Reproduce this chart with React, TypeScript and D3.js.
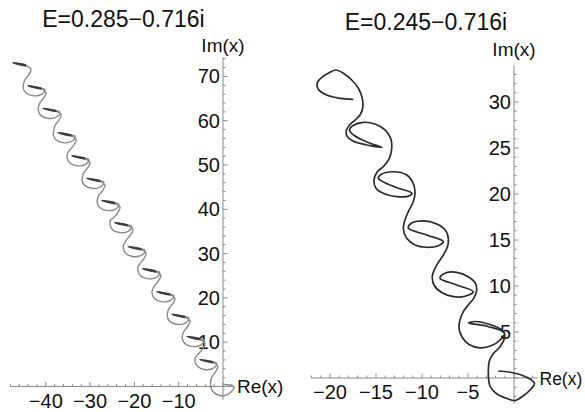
import React from 'react';
import * as d3 from 'd3';

// ---------- data ----------
const leftTitle = 'E=0.285\u22120.716i';
const rightTitle = 'E=0.245\u22120.716i';

const leftXTicks = [-40, -30, -20, -10];
const leftYTicks = [10, 20, 30, 40, 50, 60, 70];
const rightXTicks = [-20, -15, -10, -5];
const rightYTicks = [5, 10, 15, 20, 25, 30];

// left panel: positions (Re, Im) of the left tip of each loop's dark fold
const leftLoopTips: [number, number][] = [
  [-47.4, 73.1], [-44.0, 67.9], [-40.6, 62.8], [-37.2, 57.3], [-34.1, 52.1],
  [-30.7, 47.0], [-27.3, 42.0], [-24.4, 37.0], [-21.4, 31.6], [-18.1, 26.6],
  [-14.9, 21.4], [-11.5, 16.3], [-8.1, 11.3], [-5.2, 6.1],
];
// shape of one left-panel loop, as (Re, Im) offsets from its tip
const leftLoopShape: [number, number][] = [
  [-1.0, 0.5], [-1.1, -0.5], [-0.5, -1.6], [1.0, -2.25], [2.6, -2.15],
  [3.6, -1.5], [3.75, -0.8], [2.93, -0.54], [1.35, -0.23], [0, 0],
  [1.35, -0.38], [3.05, -0.72], [4.05, -1.5], [3.55, -2.75], [2.7, -3.8],
];
// left panel: last turn near the origin
const leftTail: [number, number][] = [
  [-2.6, 2.0], [-2.82, 0.68], [-2.48, -0.9], [-1.13, -1.92], [0.45, -2.03],
  [1.81, -1.24], [2.48, -0.23], [1.58, 0.34], [0, 0.45],
];

// right panel trajectory (Re, Im)
const rightCurve: [number, number][] = [
  // loop 1
  [-17.47, 30.29], [-18.91, 30.4], [-20.36, 30.76], [-21.27, 31.38], [-21.38, 32.1],
  [-20.79, 32.75], [-20.0, 33.23], [-19.35, 33.48], [-18.55, 33.12], [-17.64, 32.39],
  [-16.92, 31.49], [-16.49, 30.4], [-16.45, 29.32], [-16.74, 28.59], [-17.28, 28.04],
  // loop 2
  [-17.83, 27.55], [-18.21, 26.96], [-18.15, 26.3], [-17.5, 25.76], [-16.01, 25.33],
  [-14.38, 25.08], [-15.84, 25.6], [-17.28, 26.3], [-17.88, 26.96], [-17.47, 27.45],
  [-16.38, 27.79], [-15.11, 27.61], [-14.02, 26.96], [-13.4, 26.05], [-13.29, 24.97],
  [-13.55, 23.88], [-14.21, 22.97],
  // loop 3
  [-14.86, 22.42], [-15.22, 21.52], [-15.0, 20.62], [-14.21, 20.08], [-12.75, 19.71],
  [-11.3, 19.84], [-11.09, 20.08], [-12.93, 20.76], [-14.75, 21.71], [-14.46, 22.12],
  [-13.12, 22.42], [-11.66, 22.07], [-10.95, 21.16], [-10.76, 20.08], [-10.95, 19.16],
  [-11.49, 18.08],
  // loop 4
  [-11.85, 17.17], [-12.03, 16.25], [-11.66, 15.18], [-10.76, 14.46], [-9.49, 14.21],
  [-8.23, 14.38], [-7.68, 14.82], [-9.49, 15.54], [-11.49, 16.3], [-11.2, 16.79],
  [-9.86, 17.07], [-8.4, 16.74], [-7.39, 15.98], [-7.14, 15.18], [-7.23, 14.27],
  [-7.68, 13.37], [-8.23, 12.55],
  // loop 5
  [-8.59, 11.92], [-8.88, 11.09], [-8.7, 10.11], [-7.86, 9.29], [-6.6, 8.84],
  [-5.33, 8.88], [-4.42, 9.38], [-6.23, 10.11], [-8.04, 10.84], [-7.5, 11.38],
  [-6.23, 11.49], [-4.97, 11.01], [-4.24, 10.38], [-4.05, 9.57], [-4.35, 8.7],
  [-4.97, 7.93], [-5.51, 7.21],
  // loop 6
  [-5.87, 6.3], [-5.98, 5.43], [-5.65, 4.46], [-4.89, 3.64], [-3.7, 3.28],
  [-2.42, 3.53], [-1.52, 4.13], [-1.03, 4.89], [-2.83, 5.6], [-4.95, 5.98],
  [-4.24, 6.14], [-2.61, 5.82], [-1.3, 5.22], [-0.98, 4.57], [-1.52, 3.4],
  [-2.28, 2.61], [-2.68, 1.85],
  // loop 7
  [-2.79, 0.51], [-2.61, -0.87], [-1.85, -1.74], [-0.76, -2.23], [0.11, -2.45],
  [0.98, -1.96], [1.85, -1.2], [2.23, -0.6], [1.74, -0.11], [0.65, 0.38],
  [-0.54, 0.65], [-1.71, 0.76],
];

// ---------- scales ----------
const xL = d3.scaleLinear().domain([-40, 0]).range([45.8, 223]);
const yL = d3.scaleLinear().domain([0, 70]).range([386.5, 76.4]);
const xR = d3.scaleLinear().domain([-20, 0]).range([330, 514]);
const yR = d3.scaleLinear().domain([0, 30]).range([378, 102]);

const FONT = '"Liberation Sans", Arial, sans-serif';
const AXIS = '#8a8a8a';
const TICK_FS = 20;

function Axes(props: {
  x: d3.ScaleLinear<number, number>;
  y: d3.ScaleLinear<number, number>;
  xExt: [number, number];
  yExt: [number, number];
  xMajor: number[];
  yMajor: number[];
  minorStep: number;
  majorStep: number;
}) {
  const { x, y, xExt, yExt, xMajor, yMajor, minorStep, majorStep } = props;
  const x0 = x(0);
  const y0 = y(0);
  const xMinor = d3.range(Math.ceil(xExt[0] / minorStep) * minorStep, xExt[1], minorStep);
  const yMinor = d3.range(Math.ceil(yExt[0] / minorStep) * minorStep, yExt[1], minorStep);
  const isMajor = (v: number) => Math.abs(v / majorStep - Math.round(v / majorStep)) < 1e-6;
  return (
    <g>
      <line x1={x(xExt[0])} x2={x(xExt[1])} y1={y0} y2={y0} stroke={AXIS} strokeWidth={1} />
      <line x1={x0} x2={x0} y1={y(yExt[0])} y2={y(yExt[1])} stroke={AXIS} strokeWidth={1} />
      {xMinor.map((v, i) => (
        <line key={'xm' + i} x1={x(v)} x2={x(v)} y1={y0} y2={y0 - (isMajor(v) ? 4.5 : 2.5)} stroke={AXIS} strokeWidth={1} />
      ))}
      {yMinor.map((v, i) => (
        <line key={'ym' + i} x1={x0} x2={x0 + (isMajor(v) ? 4.5 : 2.5)} y1={y(v)} y2={y(v)} stroke={AXIS} strokeWidth={1} />
      ))}
      {xMajor.map((v) => (
        <text key={'xl' + v} x={x(v)} y={y0 + 21} textAnchor="middle" fontFamily={FONT} fontSize={TICK_FS} fill="#111">
          {'\u2212' + Math.abs(v)}
        </text>
      ))}
      {yMajor.map((v) => (
        <text key={'yl' + v} x={x0 - 3} y={y(v) + 7} textAnchor="end" fontFamily={FONT} fontSize={TICK_FS} fill="#111">
          {v}
        </text>
      ))}
    </g>
  );
}

export default function App() {
  const lineL = d3
    .line<[number, number]>()
    .x((d) => xL(d[0]))
    .y((d) => yL(d[1]))
    .curve(d3.curveCatmullRom.alpha(0.5));
  const lineR = d3
    .line<[number, number]>()
    .x((d) => xR(d[0]))
    .y((d) => yR(d[1]))
    .curve(d3.curveCatmullRom.alpha(0.5));

  const leftPts: [number, number][] = [];
  const dashes: [number, number][][] = [];
  leftLoopTips.forEach((tip, k) => {
    const start = k === 0 ? 7 : 0;
    const end = k === leftLoopTips.length - 1 ? 13 : leftLoopShape.length - 1;
    for (let i = start; i <= end; i++) {
      leftPts.push([tip[0] + leftLoopShape[i][0], tip[1] + leftLoopShape[i][1]]);
    }
    const dash: [number, number][] = [];
    for (let i = 7; i <= 11; i++) dash.push([tip[0] + leftLoopShape[i][0], tip[1] + leftLoopShape[i][1]]);
    dashes.push(dash);
  });
  leftTail.forEach((p) => leftPts.push(p));

  return (
    <svg width={585} height={412} style={{ position: 'absolute', left: 0, top: 0, background: '#fff' }}>
      <rect x={0} y={0} width={585} height={412} fill="#fff" />
      {/* left panel */}
      <text x={123.5} y={27} textAnchor="middle" fontFamily={FONT} fontSize={23} fill="#111">{leftTitle}</text>
      <Axes x={xL} y={yL} xExt={[-48, 2.7]} yExt={[-3, 74.3]} xMajor={leftXTicks} yMajor={leftYTicks} minorStep={2} majorStep={10} />
      <text x={xL(0)} y={52} textAnchor="middle" fontFamily={FONT} fontSize={19} fill="#111">Im(x)</text>
      <text x={237} y={yL(0) + 6.5} textAnchor="start" fontFamily={FONT} fontSize={19} fill="#111">Re(x)</text>
      <path d={lineL(leftPts) || ''} fill="none" stroke="#8a8a8a" strokeWidth={1.4} />
      {dashes.map((d, i) => (
        <path key={'d' + i} d={lineL(d) || ''} fill="none" stroke="#3c3c3c" strokeWidth={1.7} />
      ))}

      {/* right panel */}
      <text x={426} y={30} textAnchor="middle" fontFamily={FONT} fontSize={23} fill="#111">{rightTitle}</text>
      <Axes x={xR} y={yR} xExt={[-22, 2.6]} yExt={[-2.8, 34]} xMajor={rightXTicks} yMajor={rightYTicks} minorStep={1} majorStep={5} />
      <text x={xR(0)} y={56} textAnchor="middle" fontFamily={FONT} fontSize={19} fill="#111">Im(x)</text>
      <text x={539.5} y={yR(0) + 6.5} textAnchor="start" fontFamily={FONT} fontSize={17.5} fill="#111">Re(x)</text>
      <path d={lineR(rightCurve) || ''} fill="none" stroke="#2b2b2b" strokeWidth={1.7} strokeLinejoin="round" />
    </svg>
  );
}
